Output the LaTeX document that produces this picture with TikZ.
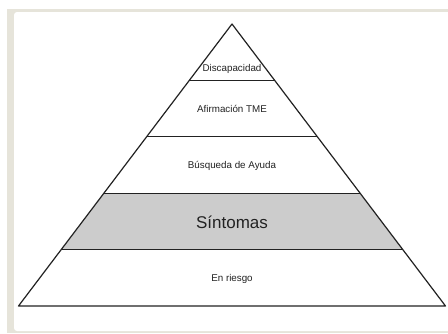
\documentclass[tikz,border=0pt]{standalone}
\usepackage{fontspec}
\setmainfont{Liberation Sans}
\usetikzlibrary{calc}
\definecolor{frame}{HTML}{E6E4DA}
\definecolor{band}{HTML}{CCCCCC}
\definecolor{ink}{HTML}{222222}
\tikzset{
  edge/.style={draw=ink, line width=1.2pt, line join=round},
  lbl/.style={font=\fontsize{9.8}{11}\selectfont, text=ink, inner sep=0pt},
  biglbl/.style={font=\fontsize{17}{19}\selectfont, text=ink, inner sep=0pt}
}
\begin{document}
\begin{tikzpicture}[x=1pt,y=-1pt]
\useasboundingbox (0,0) rectangle (448,333);
\fill[white] (0,0) rectangle (448,333);
\fill[frame] (7,8.5) rectangle (448,333);
\fill[white, rounded corners=3pt] (14,12) rectangle (452,331);
\coordinate (A) at (232,24);
\coordinate (L) at (18.5,306);
\coordinate (R) at (445.5,306);
\foreach \f/\n in {0.2/1,0.4/2,0.6/3,0.8/4}{
  \coordinate (l\n) at ($(A)!\f!(L)$);
  \coordinate (r\n) at ($(A)!\f!(R)$);
}
\fill[band] (l3) -- (r3) -- (r4) -- (l4) -- cycle;
\draw[edge] (A) -- (L) -- (R) -- cycle;
\foreach \n in {1,2,3,4}{ \draw[edge] (l\n) -- (r\n); }
\node[lbl] (t1) at (232,69) {Discapacidad};
\node[lbl] (t2) at (232,109) {Afirmación TME};
\node[lbl] (t3) at (232,166) {Búsqueda de Ayuda};
\node[biglbl] (t4) at (232,222) {Síntomas};
\node[lbl] (t5) at (232,279) {En riesgo};
\end{tikzpicture}
\end{document}
